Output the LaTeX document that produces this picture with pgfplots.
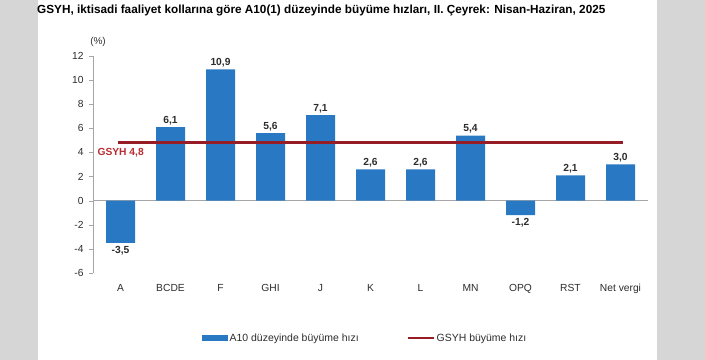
\documentclass[border=0pt]{standalone}
\usepackage{pgfplots}
\pgfplotsset{compat=1.18}
\usepackage{pgfplotstable}
\usepackage{fontspec}
\setmainfont{Liberation Sans}
\definecolor{barblue}{RGB}{40,120,196}
\definecolor{gsyhred}{RGB}{150,28,38}
\definecolor{labred}{RGB}{185,45,50}
\definecolor{txt}{RGB}{45,45,45}
\definecolor{bggray}{RGB}{214,214,214}

\pgfplotstableread{
x y lab
1 6.1 6,1
2 10.9 10,9
3 5.6 5,6
4 7.1 7,1
5 2.6 2,6
6 2.6 2,6
7 5.4 5,4
9 2.1 2,1
10 3.0 3,0
}\pos
\pgfplotstableread{
x y lab
0 -3.5 -3,5
8 -1.2 -1,2
}\neg

\begin{document}
\begin{tikzpicture}
\fill[bggray] (0,0) rectangle (705bp,360bp);
\fill[white] (38bp,0) rectangle (657bp,360bp);
\node[anchor=west, font=\bfseries\fontsize{11.8}{14}\selectfont, text=black, inner sep=0pt] at (37bp,350bp) {GSYH, iktisadi faaliyet kollarına göre A10(1) düzeyinde büyüme hızları, II. Çeyrek: Nisan-Haziran, 2025};
\begin{axis}[
  at={(93bp,87bp)}, anchor=south west,
  width=555bp, height=217bp, scale only axis,
  xmin=-0.55, xmax=10.55, ymin=-6, ymax=12,
  axis y line*=left, axis x line*=bottom,
  x axis line style={draw=none},
  y axis line style={draw=gray!70},
  ytick={-6,-4,...,12},
  xtick={0,...,10},
  xticklabels={A,BCDE,F,GHI,J,K,L,MN,OPQ,RST,Net vergi},
  tick align=outside,
  major tick length=4bp,
  ytick style={draw=gray!70},
  xtick style={draw=none},
  tick label style={font=\fontsize{10.3}{12}\selectfont, text=txt},
  /pgf/number format/assume math mode=true,
  yticklabel style={xshift=-2bp},
  xticklabel style={yshift=-4bp},
  clip=false,
  legend style={at={(0.49,-0.30)}, anchor=center, draw=none, fill=none,
    font=\fontsize{10.5}{12}\selectfont, text=txt,
    /tikz/every even column/.append style={column sep=46bp}},
  legend columns=2,
]
\addplot[forget plot, gray!70, line width=0.6pt] coordinates {(-0.55,0) (10.55,0)};
\addplot[ybar, bar width=0.58, bar shift=0pt, fill=barblue, draw=none,
  point meta=explicit symbolic,
  nodes near coords={\pgfplotspointmeta},
  every node near coord/.append style={font=\bfseries\fontsize{10.3}{12}\selectfont, text=txt, anchor=south, inner sep=2bp},
  legend image code/.code={\fill[barblue] (0bp,-3bp) rectangle (26bp,3bp);}]
  table[x=x,y=y,meta=lab] {\pos};
\addlegendentry{A10 düzeyinde büyüme hızı}
\addplot[forget plot, ybar, bar width=0.58, bar shift=0pt, fill=barblue, draw=none,
  point meta=explicit symbolic,
  nodes near coords={\pgfplotspointmeta},
  every node near coord/.append style={font=\bfseries\fontsize{10.3}{12}\selectfont, text=txt, anchor=north, inner sep=3.5bp}]
  table[x=x,y=y,meta=lab] {\neg};
\addplot[gsyhred, line width=2.8pt,
  legend image code/.code={\draw[gsyhred, line width=2pt] (0bp,0bp) -- (26bp,0bp);}]
  coordinates {(-0.05,4.8) (10.05,4.8)};
\addlegendentry{GSYH büyüme hızı}
\node[font=\fontsize{10}{12}\selectfont, text=txt] at (axis cs:-0.45,12) [yshift=14bp] {(\%)};
\node[font=\bfseries\fontsize{10.3}{12}\selectfont, text=labred, anchor=west] at (axis cs:-0.55,4) [xshift=1bp] {GSYH 4,8};
\end{axis}
\end{tikzpicture}
\end{document}
